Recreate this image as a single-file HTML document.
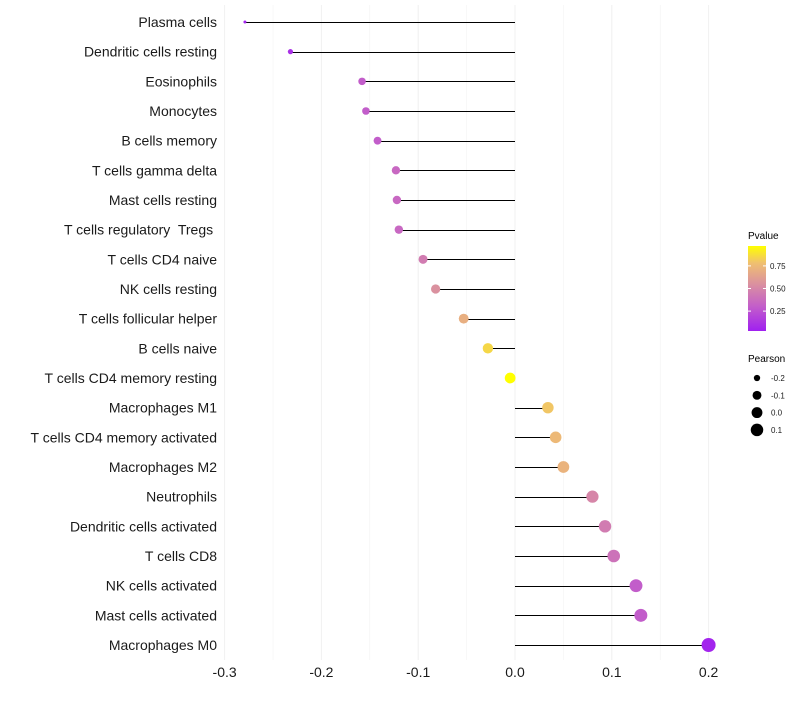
<!DOCTYPE html>
<html><head><meta charset="utf-8"><style>
body{margin:0;background:#fff;font-family:"Liberation Sans",sans-serif}
</style></head><body>
<svg id="chart" width="800" height="700" xmlns="http://www.w3.org/2000/svg" font-family="Liberation Sans, sans-serif">
<defs><linearGradient id="pg" x1="0" y1="1" x2="0" y2="0">
<stop offset="0" stop-color="#a020f0"/><stop offset="0.3" stop-color="#c460c8"/><stop offset="0.55" stop-color="#da90a0"/><stop offset="0.8" stop-color="#f0c070"/><stop offset="1" stop-color="#ffff00"/>
</linearGradient></defs>
<g id="grid"></g>
<g id="marks"></g>
<g id="labels"></g>
<g id="xt"></g>
<g>
<text x="748" y="239" font-size="10" fill="#000">Pvalue</text>
<rect x="748" y="246" width="18" height="85" fill="url(#pg)"/>
<g id="cb"></g>
</g>
<g id="sl">
<text x="748" y="362" font-size="10" fill="#000">Pearson</text>
</g>
</svg>
<script>
const cells=["Plasma cells","Dendritic cells resting","Eosinophils","Monocytes","B cells memory","T cells gamma delta","Mast cells resting","T cells regulatory  Tregs ","T cells CD4 naive","NK cells resting","T cells follicular helper","B cells naive","T cells CD4 memory resting","Macrophages M1","T cells CD4 memory activated","Macrophages M2","Neutrophils","Dendritic cells activated","T cells CD8","NK cells activated","Mast cells activated","Macrophages M0"];
const pearson=[-0.279,-0.232,-0.158,-0.154,-0.142,-0.123,-0.122,-0.120,-0.095,-0.082,-0.053,-0.028,-0.005,0.034,0.042,0.050,0.080,0.093,0.102,0.125,0.130,0.200];
const pvalue=[0.05,0.1,0.3,0.3,0.3,0.35,0.35,0.35,0.45,0.55,0.7,0.85,0.97,0.8,0.75,0.72,0.5,0.45,0.4,0.3,0.3,0.05];
const xTicks=[-0.3,-0.2,-0.1,0.0,0.1,0.2];
const xTickLabels=["-0.3","-0.2","-0.1","0.0","0.1","0.2"];
const cbTicks=[0.25,0.5,0.75];
const sizeBreaks=[-0.2,-0.1,0.0,0.1];
const sizeLabels=["-0.2","-0.1","0.0","0.1"];
const NS="http://www.w3.org/2000/svg";
const x=v=>515+(v)*968;
const y=i=>22+i*(623/21);
const r=v=>Math.sqrt(Math.max(1,2.25+97.6*(v+0.279)));
const cbY=p=>331-(p-0.03)/(0.94)*85;
function col(p){const st=[[0,[160,32,240]],[0.3,[196,96,200]],[0.55,[218,144,160]],[0.8,[240,192,112]],[1,[255,255,0]]];
 const t=(p-0.03)/0.94;for(let k=1;k<st.length;k++){if(t<=st[k][0]){const a=st[k-1],b=st[k],f=(t-a[0])/(b[0]-a[0]);return "rgb("+a[1].map((c,j)=>Math.round(c+(b[1][j]-c)*f)).join(",")+")";}}return "rgb(255,255,0)";}
function mk(t,a,p){const e=document.createElementNS(NS,t);for(const k in a)e.setAttribute(k,a[k]);p.appendChild(e);return e;}
const grid=document.getElementById('grid');
for(let k=0;k<=10;k++){const v=-0.3+k*0.05;const l=mk('line',{x1:x(v),x2:x(v),y1:5,y2:660,stroke:'#f0f0f0','stroke-width':k%2===0?1:0.5},grid);

}
const marks=document.getElementById('marks'),lab=document.getElementById('labels');
cells.forEach((c,i)=>{
 const l=mk('line',{x1:x(0),x2:x(pearson[i]),y1:Math.round(y(i))+0.5,y2:Math.round(y(i))+0.5,stroke:'#000','stroke-width':1},marks);
 
 
 const d=mk('circle',{cx:x(pearson[i]),cy:y(i),r:r(pearson[i]),fill:col(pvalue[i])},marks);
 
 
 const t=mk('text',{x:217,y:y(i)+5,'text-anchor':'end','font-size':14,fill:'#1a1a1a',style:'white-space:pre'},lab);
 t.textContent=c;
 
 
});
const xt=document.getElementById('xt');
xTicks.forEach((v,i)=>{const t=mk('text',{x:x(v),y:677,'text-anchor':'middle','font-size':14,fill:'#1a1a1a'},xt);t.textContent=xTickLabels[i];
 
 });
const cb=document.getElementById('cb');
cbTicks.forEach(p=>{mk('line',{x1:748,x2:751,y1:cbY(p),y2:cbY(p),stroke:'#fff'},cb);mk('line',{x1:763,x2:766,y1:cbY(p),y2:cbY(p),stroke:'#fff'},cb);
 const t=mk('text',{x:770,y:cbY(p)+3,'font-size':8,fill:'#1a1a1a'},cb);t.textContent=p.toFixed(2);
 
 });
const sl=document.getElementById('sl');
sizeBreaks.forEach((v,i)=>{
 const cy=378+i*17.3;
 const c=mk('circle',{cx:757,cy:cy,r:r(v),fill:'#000'},sl);
 
 
 const t=mk('text',{x:771,y:cy+3,'font-size':8,fill:'#1a1a1a'},sl);t.textContent=sizeLabels[i];
 
 
});
</script>
</body></html>
